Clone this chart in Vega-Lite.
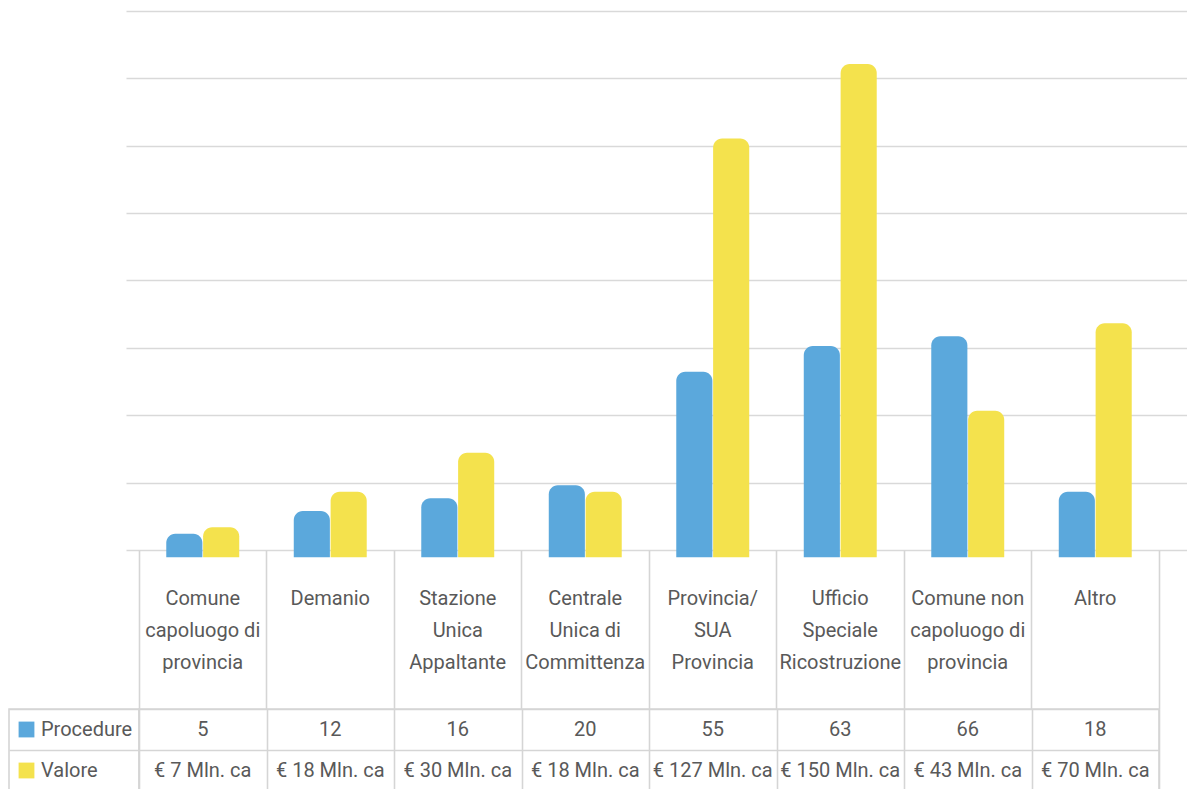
{
  "$schema": "https://vega.github.io/schema/vega-lite/v6.json",
  "padding": {"left": 8, "top": 0, "right": 0, "bottom": 0},
  "bounds": "flush",
  "spacing": 0,
  "resolve": {"scale": {"x": "independent", "y": "independent", "color": "independent", "xOffset": "independent"}},
  "datasets": {
    "dati": [
      {"ente": "Comune capoluogo di provincia", "etichetta": "Comune|capoluogo di|provincia", "serie": "Procedure", "valore": 5, "testo": "5"},
      {"ente": "Comune capoluogo di provincia", "etichetta": "Comune|capoluogo di|provincia", "serie": "Valore", "valore": 7, "testo": "€ 7 Mln. ca"},
      {"ente": "Demanio", "etichetta": "Demanio", "serie": "Procedure", "valore": 12, "testo": "12"},
      {"ente": "Demanio", "etichetta": "Demanio", "serie": "Valore", "valore": 18, "testo": "€ 18 Mln. ca"},
      {"ente": "Stazione Unica Appaltante", "etichetta": "Stazione|Unica|Appaltante", "serie": "Procedure", "valore": 16, "testo": "16"},
      {"ente": "Stazione Unica Appaltante", "etichetta": "Stazione|Unica|Appaltante", "serie": "Valore", "valore": 30, "testo": "€ 30 Mln. ca"},
      {"ente": "Centrale Unica di Committenza", "etichetta": "Centrale|Unica di|Committenza", "serie": "Procedure", "valore": 20, "testo": "20"},
      {"ente": "Centrale Unica di Committenza", "etichetta": "Centrale|Unica di|Committenza", "serie": "Valore", "valore": 18, "testo": "€ 18 Mln. ca"},
      {"ente": "Provincia/SUA Provincia", "etichetta": "Provincia/|SUA|Provincia", "serie": "Procedure", "valore": 55, "testo": "55"},
      {"ente": "Provincia/SUA Provincia", "etichetta": "Provincia/|SUA|Provincia", "serie": "Valore", "valore": 127, "testo": "€ 127 Mln. ca"},
      {"ente": "Ufficio Speciale Ricostruzione", "etichetta": "Ufficio|Speciale|Ricostruzione", "serie": "Procedure", "valore": 63, "testo": "63"},
      {"ente": "Ufficio Speciale Ricostruzione", "etichetta": "Ufficio|Speciale|Ricostruzione", "serie": "Valore", "valore": 150, "testo": "€ 150 Mln. ca"},
      {"ente": "Comune non capoluogo di provincia", "etichetta": "Comune non|capoluogo di|provincia", "serie": "Procedure", "valore": 66, "testo": "66"},
      {"ente": "Comune non capoluogo di provincia", "etichetta": "Comune non|capoluogo di|provincia", "serie": "Valore", "valore": 43, "testo": "€ 43 Mln. ca"},
      {"ente": "Altro", "etichetta": "Altro", "serie": "Procedure", "valore": 18, "testo": "18"},
      {"ente": "Altro", "etichetta": "Altro", "serie": "Valore", "valore": 70, "testo": "€ 70 Mln. ca"}
    ],
    "serie": [{"serie": "Procedure"}, {"serie": "Valore"}]
  },
  "config": {
    "view": {"stroke": null},
    "font": "Roboto",
    "text": {"font": "Roboto", "color": "#595959", "fontSize": 20}
  },
  "vconcat": [
    {
      "width": 1179,
      "height": 550,
      "data": {"name": "dati"},
      "mark": {"type": "bar", "cornerRadiusTopLeft": 9, "cornerRadiusTopRight": 9},
      "encoding": {
        "x": {"field": "ente", "type": "nominal", "sort": null, "scale": {"range": [117, 1179], "paddingInner": 0, "paddingOuter": 0.1647, "align": 0.3095}, "axis": null},
        "xOffset": {"field": "serie", "type": "nominal", "sort": ["Procedure", "Valore"], "scale": {"paddingInner": 0.02, "paddingOuter": 0.74}},
        "y": {
          "field": "valore", "type": "quantitative",
          "scale": {"domain": [0, 169.75], "nice": false, "zero": false},
          "axis": {"values": [0, 20.8, 41.6, 62.4, 83.2, 104, 124.8, 145.6, 166.4], "grid": true, "labels": false, "ticks": false, "domain": false, "title": null, "gridColor": "#d9d9d9", "gridWidth": 1.6}
        },
        "y2": {"datum": -2.2},
        "color": {"field": "serie", "type": "nominal", "scale": {"domain": ["Procedure", "Valore"], "range": ["#5BA8DC", "#F4E24D"]}, "legend": null}
      }
    },
    {
      "width": 1150,
      "height": 159,
      "data": {"name": "dati"},
      "transform": [{"filter": "datum.serie === 'Procedure'"}],
      "mark": {"type": "text", "lineBreak": "|", "lineHeight": 32, "baseline": "alphabetic", "align": "center", "dy": -25, "fontSize": 20},
      "encoding": {
        "x": {"field": "ente", "type": "nominal", "sort": null, "scale": {"paddingInner": 0, "paddingOuter": 0.5098, "align": 1}, "axis": {"grid": true, "tickBand": "extent", "labels": false, "ticks": false, "domain": false, "title": null, "gridColor": "#d5d5d5", "gridWidth": 1.6}},
        "text": {"field": "etichetta"}
      }
    },
    {
      "hconcat": [
        {
          "width": 130,
          "height": 82,
          "view": {"stroke": "#d5d5d5", "strokeWidth": 1.6},
          "data": {"name": "serie"},
          "encoding": {
            "y": {"field": "serie", "type": "nominal", "sort": ["Procedure", "Valore"], "scale": {"paddingInner": 0, "paddingOuter": 0}, "axis": {"grid": true, "tickBand": "extent", "labels": false, "ticks": false, "domain": false, "title": null, "gridColor": "#d5d5d5", "gridWidth": 1.6}}
          },
          "layer": [
            {
              "mark": {"type": "point", "shape": "square", "filled": true, "size": 250, "opacity": 1, "xOffset": -47.5},
              "encoding": {"color": {"field": "serie", "type": "nominal", "scale": {"domain": ["Procedure", "Valore"], "range": ["#5BA8DC", "#F4E24D"]}, "legend": null}}
            },
            {
              "mark": {"type": "text", "align": "left", "baseline": "middle", "dx": -33, "fontSize": 20},
              "encoding": {"text": {"field": "serie"}}
            }
          ]
        },
        {
          "width": 1020,
          "height": 82,
          "view": {"stroke": "#d5d5d5", "strokeWidth": 1.6},
          "data": {"name": "dati"},
          "mark": {"type": "text", "align": "center", "baseline": "middle", "fontSize": 20},
          "encoding": {
            "x": {"field": "ente", "type": "nominal", "sort": null, "scale": {"paddingInner": 0, "paddingOuter": 0}, "axis": {"grid": true, "tickBand": "extent", "labels": false, "ticks": false, "domain": false, "title": null, "gridColor": "#d5d5d5", "gridWidth": 1.6}},
            "y": {"field": "serie", "type": "nominal", "sort": ["Procedure", "Valore"], "scale": {"paddingInner": 0, "paddingOuter": 0}, "axis": {"grid": true, "tickBand": "extent", "labels": false, "ticks": false, "domain": false, "title": null, "gridColor": "#d5d5d5", "gridWidth": 1.6}},
            "text": {"field": "testo"}
          }
        }
      ],
      "spacing": 0,
      "bounds": "flush",
      "resolve": {"scale": {"x": "independent", "y": "independent"}}
    }
  ]
}
